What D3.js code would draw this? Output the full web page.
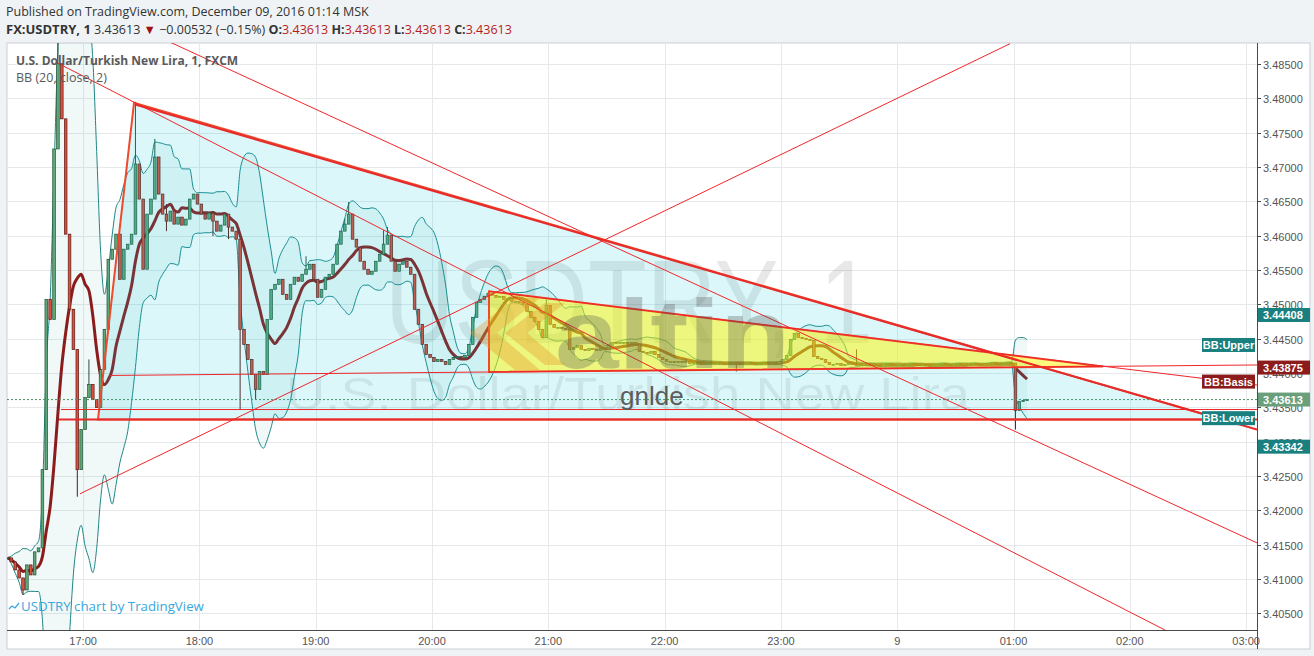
<!DOCTYPE html>
<html><head><meta charset="utf-8">
<script src="https://cdn.jsdelivr.net/npm/d3@7"></script>
<style>
html,body{margin:0;padding:0;background:#f0f3f6;}
svg{display:block;}
</style></head><body>
<svg id="c" width="1314" height="656"></svg>
<script>
// ---------------- DATA ----------------
const headerTitle = "Published on TradingView.com, December 09, 2016 01:14 MSK";
const symbolName = "FX:USDTRY, 1";
const lastPrice = 3.43613;
const change = "\u22120.00532 (\u22120.15%)";
const ohlcLabels = ["O:", "H:", "L:", "C:"];
const ohlcValues = [3.43613, 3.43613, 3.43613, 3.43613];
const seriesTitle = "U.S. Dollar/Turkish New Lira, 1, FXCM";
const indicatorTitle = "BB (20, close, 2)";
const watermarkBig = "USDTRY, 1";
const watermarkSmall = "U.S. Dollar/Turkish New Lira";
const authorNote = "gnlde";
const creditText = "USDTRY chart by TradingView";

const barStart = "16:20";
const barMinutes = 2;
const closes = [
 3.41307,3.41249,3.41132,3.41015,3.40840,3.41205,3.41059,3.41395,3.41453,3.42592,
 3.45073,3.44781,3.47263,3.48504,3.47701,3.46022,3.44928,3.44344,3.42592,3.43176,
 3.43643,3.43833,3.43613,3.43497,3.44052,3.44636,3.45657,3.45803,3.46022,3.45365,
 3.45803,3.45876,3.46022,3.47044,3.46533,3.45511,3.46314,3.46533,3.47146,3.46606,
 3.46314,3.46212,3.46358,3.46168,3.46270,3.46154,3.46241,3.46533,3.46606,3.46460,
 3.46314,3.46241,3.46329,3.46212,3.46066,3.46154,3.46314,3.46125,3.46066,3.45949,
 3.44636,3.44417,3.44198,3.43979,3.43760,3.44022,3.43979,3.44781,3.45219,3.45292,
 3.45365,3.45146,3.45073,3.45292,3.45395,3.45336,3.45438,3.45511,3.45584,3.45365,
 3.45103,3.45219,3.45395,3.45438,3.45584,3.45876,3.46066,3.46168,3.46314,3.45949,
 3.45833,3.45628,3.45511,3.45438,3.45482,3.45628,3.45730,3.45876,3.46008,3.45628,
 3.45482,3.45584,3.45628,3.45541,3.45438,3.44928,3.44709,3.44417,3.44271,3.44227,
 3.44168,3.44198,3.44168,3.44125,3.44198,3.44227,3.44241,3.44227,3.44256,3.44417,
 3.44811,3.45030,3.45073,3.45117,3.45161,3.45132,3.45103,3.45117,3.45073,3.45088,
 3.45044,3.45044,3.45030,3.45001,3.44898,3.44811,3.44752,3.44636,3.44519,3.44986,
 3.44709,3.44665,3.44665,3.44650,3.44636,3.44344,3.44373,3.44402,3.44344,3.44329,
 3.44358,3.44344,3.44329,3.44358,3.44344,3.44402,3.44446,3.44431,3.44446,3.44446,
 3.44431,3.44446,3.44417,3.44314,3.44300,3.44285,3.44314,3.44271,3.44227,3.44198,
 3.44168,3.44168,3.44154,3.44168,3.44154,3.44168,3.44139,3.44154,3.44139,3.44125,
 3.44139,3.44154,3.44139,3.44154,3.44139,3.44125,3.44139,3.44154,3.44139,3.44125,
 3.44139,3.44154,3.44139,3.44125,3.44139,3.44154,3.44139,3.44154,3.44139,3.44168,
 3.44198,3.44256,3.44490,3.44577,3.44519,3.44504,3.44490,3.44475,3.44241,3.44212,
 3.44198,3.44154,3.44125,3.44125,3.44139,3.44110,3.44125,3.44139,3.44125,3.44110,
 3.44125,3.44139,3.44110,3.44125,3.44110,3.44095,3.44125,3.44139,3.44125,3.44110,
 3.44125,3.44110,3.44125,3.44139,3.44125,3.44110,3.44125,3.44110,3.44095,3.44110,
 3.44125,3.44139,3.44125,3.44110,3.44125,3.44139,3.44125,3.44110,3.44125,3.44139,
 3.44125,3.44110,3.44125,3.44139,3.44154,3.44139,3.44125,3.44139,3.44154,3.44145,
 3.43453,3.43584,3.43599,3.43613
];
// [bar index, high, low] for bars whose wicks reach beyond their bodies
const wicks = [
 [4,null,3.40767],[13,3.49100,null],[18,null,3.42198],[21,3.44198,null],
 [33,3.47950,null],[38,3.47409,null],[41,3.46460,3.46066],[53,3.46358,3.45993],
 [57,3.46300,3.45950],[60,null,3.43468],[64,null,3.43613],[77,3.45700,null],
 [87,3.46250,null],[88,3.46490,null],[97,3.46080,null],[98,3.46125,null],
 [139,3.45073,null],[188,null,3.44022],[219,3.44344,null],[260,null,3.43176]
];

const priceTicks = [3.405,3.41,3.415,3.42,3.425,3.43,3.435,3.44,3.445,3.45,3.455,3.46,3.465,3.47,3.475,3.48,3.485];
const timeTicks = ["17:00","18:00","19:00","20:00","21:00","22:00","23:00","00:00","01:00","02:00","03:00"];
const viewStart = "16:20:44", viewEnd = "03:05:37";
const priceMin = 3.40257, priceMax = 3.48806;

const bbPeriodMinutes = 20, bbMult = 2;
const bbNames = ["BB:Upper", "BB:Basis", "BB:Lower"];
const bbLastValues = [3.44408, 3.43875, 3.43342];

// drawings: [time, price] anchors
const thinLines = [
 [["17:44:20",3.48825],["03:05:36",3.41526]],
 [["16:46:30",3.48519],["02:18:10",3.40256]],
 [["16:58:24",3.42241],["00:58:12",3.48796]],
 [["16:48:36",3.43468],["03:05:36",3.43468]],
 [["17:13:53",3.43964],["03:05:36",3.44117]],
 [["20:29:24",3.45190],["03:05:36",3.43825]]
];
const thickLines = [
 [["17:27:17",3.47906],["03:05:36",3.43176]],
 [["16:47:34",3.43322],["03:05:36",3.43322]]
];
const bigTriangle = [["17:07:41",3.43322],["17:26:16",3.47935],["02:47:36",3.43322]];
const smallTriangle = [["20:29:24",3.45190],["20:29:24",3.44015],["01:46:12",3.44095]];

// ---------------- HELPERS ----------------
function T(s){ const p = s.split(":").map(Number); const h=p[0], m=p[1], sec=p[2]||0;
  return new Date(2016, 11, h >= 12 ? 8 : 9, h, m, sec); }

const W = 1314, H = 656;
const L = 7, R = 1257, TOP = 43, BOT = 630;
const svg = d3.select("#c");
const x = d3.scaleTime().domain([T(viewStart), T(viewEnd)]).range([L, R]);
const y = d3.scaleLinear().domain([priceMin, priceMax]).range([BOT, TOP]);
const fmt = d3.format(".5f");
const FONT = "'Open Sans', 'Liberation Sans', Arial, sans-serif";
const AXF = "'Liberation Sans', Arial, sans-serif";

// bars
const t0 = T(barStart).getTime();
const bars = closes.map((c, i) => {
  const open = i === 0 ? c : closes[i-1];
  let high = Math.max(open, c), low = Math.min(open, c);
  const wk = wicks.find(w => w[0] === i);
  if (wk) { if (wk[1] != null) high = wk[1]; if (wk[2] != null) low = wk[2]; }
  return { t: new Date(t0 + i*barMinutes*60000), mid: new Date(t0 + (i+0.5)*barMinutes*60000), open, high, low, close: c };
});
// Bollinger bands (20 minutes of closes)
const period = bbPeriodMinutes / barMinutes;
bars.forEach((b, i) => {
  const w = closes.slice(Math.max(0, i-period+1), i+1);
  const m = d3.mean(w);
  const sd = Math.sqrt(d3.mean(w, v => (v-m)*(v-m)));
  b.basis = m; b.upper = m + bbMult*sd; b.lower = m - bbMult*sd;
});

// ---------------- BACKGROUND ----------------
svg.append("rect").attr("width", W).attr("height", H).attr("fill", "#f0f3f6");
svg.append("rect").attr("x", L).attr("y", TOP).attr("width", 1310-L).attr("height", 649-TOP)
  .attr("fill", "#fff").attr("stroke", "#c9ced6");

const defs = svg.append("defs");
defs.append("clipPath").attr("id", "plot").append("rect")
  .attr("x", L).attr("y", TOP).attr("width", R-L).attr("height", BOT-TOP);
const plot = svg.append("g").attr("clip-path", "url(#plot)");

// grid
plot.append("g").selectAll("line").data(priceTicks).join("line")
  .attr("x1", L).attr("x2", R).attr("y1", d => Math.round(y(d))+0.5).attr("y2", d => Math.round(y(d))+0.5)
  .attr("stroke", "#e6e9ec");
plot.append("g").selectAll("line").data(timeTicks).join("line")
  .attr("y1", TOP).attr("y2", BOT).attr("x1", d => Math.round(x(T(d)))+0.5).attr("x2", d => Math.round(x(T(d)))+0.5)
  .attr("stroke", "#e6e9ec");

// watermarks
plot.append("text").text(watermarkBig).attr("x", 385).attr("y", 343)
  .attr("textLength", 488).attr("lengthAdjust", "spacingAndGlyphs")
  .attr("font-family", AXF).attr("font-size", 118).attr("fill", "#000").attr("fill-opacity", 0.09);
plot.append("text").text(watermarkSmall).attr("x", 286).attr("y", 410)
  .attr("textLength", 684).attr("lengthAdjust", "spacingAndGlyphs")
  .attr("font-family", AXF).attr("font-size", 46).attr("fill", "#000").attr("fill-opacity", 0.08);

// BB
plot.append("path").datum(bars)
  .attr("d", d3.area().x(d => x(d.mid)).y0(d => y(d.lower)).y1(d => y(d.upper)).curve(d3.curveMonotoneX))
  .attr("fill", "rgb(0,128,128)").attr("fill-opacity", 0.06);
["upper", "lower"].forEach(k => {
  plot.append("path").datum(bars)
    .attr("d", d3.line().x(d => x(d.mid)).y(d => y(d[k])).curve(d3.curveMonotoneX))
    .attr("fill", "none").attr("stroke", "#1f8686").attr("stroke-width", 1);
});
plot.append("path").datum(bars)
  .attr("d", d3.line().x(d => x(d.mid)).y(d => y(d.basis)).curve(d3.curveMonotoneX))
  .attr("fill", "none").attr("stroke", "#8c1c1c").attr("stroke-width", 3).attr("stroke-linejoin", "round");

// candles
const bw = (x(new Date(t0 + barMinutes*60000)) - x(new Date(t0))) * 0.68;
const cg = plot.append("g");
bars.forEach(b => {
  const up = b.close >= b.open;
  const cx = x(b.mid);
  const dark = up ? "#225437" : "#5b1a13";
  cg.append("line").attr("x1", cx).attr("x2", cx).attr("y1", y(b.high)).attr("y2", y(b.low))
    .attr("stroke", dark).attr("stroke-width", 1);
  const top = y(Math.max(b.open, b.close)), bot = y(Math.min(b.open, b.close));
  cg.append("rect").attr("x", cx - bw/2).attr("y", top).attr("width", bw).attr("height", Math.max(1, bot-top))
    .attr("fill", up ? "#5fa87a" : "#de4f3e").attr("stroke", dark).attr("stroke-width", 0.7);
});

// last price line
plot.append("line").attr("x1", L).attr("x2", R).attr("y1", y(lastPrice)).attr("y2", y(lastPrice))
  .attr("stroke", "#4e8f64").attr("stroke-dasharray", "2,2").attr("stroke-width", 1);

// BB tags inside plot
const bbColors = ["#1a7f7f", "#8c1c1c", "#1a7f7f"];
bbNames.forEach((n, i) => {
  const yy = y(bbLastValues[i]);
  svg.append("rect").attr("x", 1202).attr("y", yy-7).attr("width", 53).attr("height", 14).attr("fill", bbColors[i]);
  svg.append("text").text(n).attr("x", 1228.5).attr("y", yy+4).attr("text-anchor", "middle")
    .attr("font-family", AXF).attr("font-size", 11).attr("font-weight", "bold").attr("fill", "#fff");
});

// drawings
const P = d => [x(T(d[0])), y(d[1])];
const dg = plot.append("g");
dg.append("path").attr("d", "M" + bigTriangle.map(P).join("L") + "Z")
  .attr("fill", "rgb(0,195,220)").attr("fill-opacity", 0.14).attr("stroke", "#ee4a2c").attr("stroke-width", 2);
dg.append("path").attr("d", "M" + smallTriangle.map(P).join("L") + "Z")
  .attr("fill", "rgb(255,245,0)").attr("fill-opacity", 0.5).attr("stroke", "#ee4a2c").attr("stroke-width", 2);
thinLines.forEach(l => dg.append("line").attr("x1", P(l[0])[0]).attr("y1", P(l[0])[1]).attr("x2", P(l[1])[0]).attr("y2", P(l[1])[1])
  .attr("stroke", "#f0262a").attr("stroke-width", 1));
thickLines.forEach(l => dg.append("line").attr("x1", P(l[0])[0]).attr("y1", P(l[0])[1]).attr("x2", P(l[1])[0]).attr("y2", P(l[1])[1])
  .attr("stroke", "#e82a2a").attr("stroke-width", 2));

// publisher overlay logo (altin)
const lg = plot.append("g");
lg.append("path").attr("d", "M470,333 L515,298 L540,298 L497,333 L540,370 L515,370 Z")
  .attr("fill", "rgb(230,150,40)").attr("fill-opacity", 0.35);
lg.append("path").attr("d", "M505,333 L545,303 L565,303 L527,333 L565,365 L545,365 Z")
  .attr("fill", "rgb(230,150,40)").attr("fill-opacity", 0.35);
lg.append("text").text("altin").attr("x", 555).attr("y", 368).attr("textLength", 235).attr("lengthAdjust", "spacingAndGlyphs")
  .attr("font-family", AXF).attr("font-weight", "bold").attr("font-size", 98).attr("fill", "#505050").attr("fill-opacity", 0.3);

// text overlays
svg.append("text").text(seriesTitle).attr("x", 16).attr("y", 65)
  .attr("font-family", FONT).attr("font-size", 12).attr("font-weight", "bold").attr("fill", "#5a5a5a");
svg.append("text").text(indicatorTitle).attr("x", 16).attr("y", 82)
  .attr("font-family", FONT).attr("font-size", 12.5).attr("fill", "#5a5a5a");
svg.append("text").text(authorNote).attr("x", 620).attr("y", 405)
  .attr("font-family", AXF).attr("font-size", 26).attr("fill", "#5c5c5c");
svg.append("path").attr("d", "M9,609 L12,606 L15,608 L19,603").attr("fill", "none").attr("stroke", "#3aa7dc").attr("stroke-width", 1.3);
svg.append("text").text(creditText).attr("x", 21).attr("y", 611)
  .attr("font-family", FONT).attr("font-size", 13.3).attr("fill", "#3aa7dc");

// price axis
svg.append("line").attr("x1", R+0.5).attr("x2", R+0.5).attr("y1", TOP).attr("y2", 649).attr("stroke", "#4a4a4a");
const pa = svg.append("g");
priceTicks.forEach(p => {
  const yy = Math.round(y(p)) + 0.5;
  pa.append("line").attr("x1", R).attr("x2", R+4).attr("y1", yy).attr("y2", yy).attr("stroke", "#4a4a4a");
  pa.append("text").text(fmt(p)).attr("x", R+6).attr("y", yy+4)
    .attr("font-family", AXF).attr("font-size", 11).attr("fill", "#555");
});
// axis value boxes (laid out to avoid overlap)
const boxItems = [
  {v: bbLastValues[0], c: "#1a7f7f", dy: -30},
  {v: bbLastValues[1], c: "#8c1c1c", dy: -14},
  {v: lastPrice, c: "#6a9f7c", dy: 0},
  {v: bbLastValues[2], c: "#1a7f7f", dy: 28.5}
];
boxItems.forEach(b => {
  const yy = y(b.v) + b.dy;
  svg.append("rect").attr("x", R+1).attr("y", yy-7).attr("width", 52).attr("height", 14).attr("fill", b.c);
  svg.append("text").text(fmt(b.v)).attr("x", R+6).attr("y", yy+4)
    .attr("font-family", AXF).attr("font-size", 11).attr("font-weight", "bold").attr("fill", "#fff");
});

// time axis
svg.append("line").attr("x1", L).attr("x2", R).attr("y1", BOT+0.5).attr("y2", BOT+0.5).attr("stroke", "#4a4a4a");
const hf = d3.timeFormat("%H:%M"), df = d3.timeFormat("%-d");
timeTicks.forEach(s => {
  const d = T(s);
  svg.append("text").text(d.getHours() === 0 ? df(d) : hf(d)).attr("x", x(d)).attr("y", 645)
    .attr("text-anchor", "middle").attr("font-family", AXF).attr("font-size", 11).attr("fill", "#555");
});

// header
svg.append("text").text(headerTitle).attr("x", 6).attr("y", 16)
  .attr("font-family", FONT).attr("font-size", 12.5).attr("fill", "#333");
const h2 = svg.append("text").attr("x", 6).attr("y", 34).attr("font-family", FONT).attr("font-size", 12.5).attr("fill", "#333");
h2.append("tspan").text(symbolName).attr("font-weight", "bold").attr("font-size", 13);
h2.append("tspan").text(" " + fmt(lastPrice) + " ");
h2.append("tspan").text("\u25BC").attr("fill", "#9e0f0f");
h2.append("tspan").text(" " + change + " ");
ohlcLabels.forEach((lab, i) => {
  h2.append("tspan").text(lab).attr("font-weight", "bold");
  h2.append("tspan").text(fmt(ohlcValues[i]) + (i < 3 ? " " : "")).attr("fill", "#b71c1c");
});
</script>
</body></html>
